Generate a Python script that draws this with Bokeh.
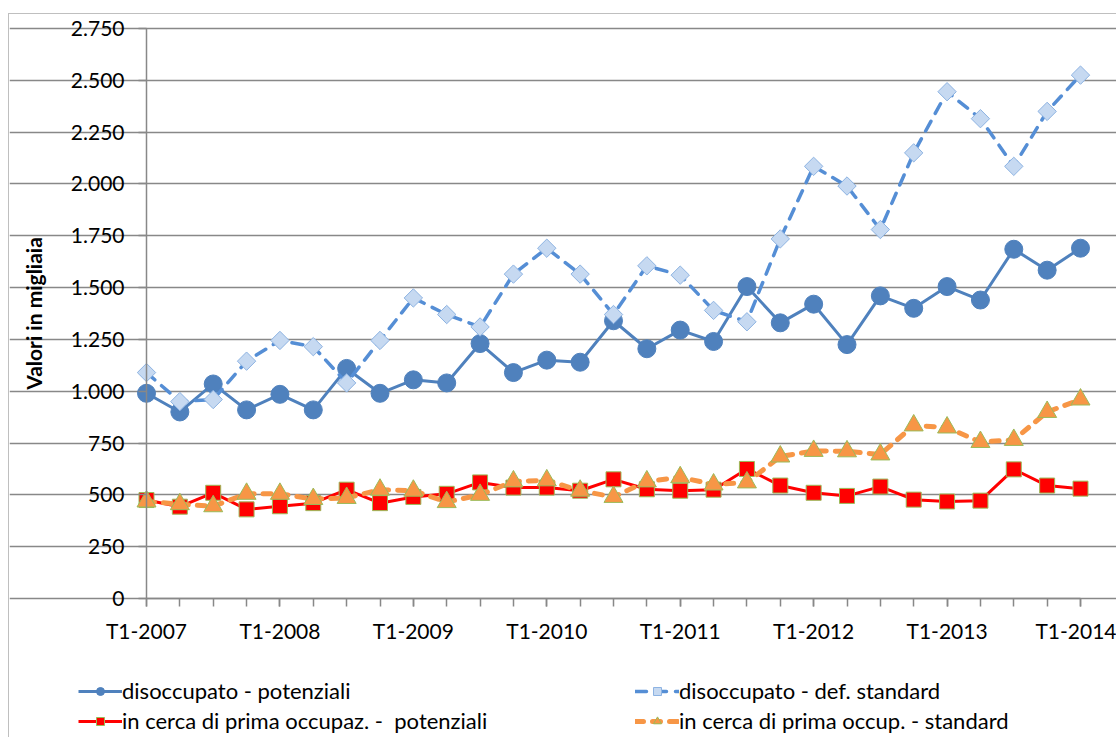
import math
from bokeh.plotting import figure
from bokeh.models import FixedTicker, Legend, LegendItem, ColumnDataSource
from bokeh.embed import file_html
from bokeh.resources import INLINE

# ---- data (values in thousands) ----
quarters = list(range(29))  # T1-2007 ... T1-2014
x_tick_pos = [0, 4, 8, 12, 16, 20, 24, 28]
x_tick_labels = ["T1-2007", "T1-2008", "T1-2009", "T1-2010", "T1-2011", "T1-2012", "T1-2013", "T1-2014"]
y_ticks = [0, 250, 500, 750, 1000, 1250, 1500, 1750, 2000, 2250, 2500, 2750]
y_tick_labels = ["0", "250", "500", "750", "1.000", "1.250", "1.500", "1.750", "2.000", "2.250", "2.500", "2.750"]

disocc_potenziali = [990, 900, 1035, 910, 985, 910, 1110, 990, 1055, 1040, 1230, 1090, 1150, 1140,
                     1340, 1205, 1295, 1240, 1505, 1330, 1420, 1225, 1460, 1400, 1505, 1440, 1685, 1584, 1690]
disocc_standard = [1090, 950, 960, 1145, 1245, 1215, 1040, 1245, 1450, 1370, 1310, 1565, 1690, 1565,
                   1370, 1605, 1560, 1390, 1335, 1735, 2085, 1990, 1780, 2150, 2445, 2315, 2085, 2350, 2525]
prima_potenziali = [475, 443, 510, 430, 445, 460, 525, 460, 490, 505, 560, 535, 535, 520,
                    575, 527, 520, 525, 625, 545, 510, 495, 540, 477, 468, 472, 623, 545, 530]
prima_standard = [468, 455, 445, 505, 505, 480, 485, 525, 520, 465, 500, 565, 570, 520,
                  490, 565, 585, 550, 560, 685, 712, 710, 695, 835, 825, 755, 765, 900, 960]

labels = ["disoccupato - potenziali", "disoccupato - def. standard",
          "in cerca di prima occupaz. -  potenziali", "in cerca di prima occup. - standard"]

FONT = "Lato"
GRID = "#888888"

# layout (window pixels): figure content box 9..1117 x 14..738
FIG_L, FIG_T, FIG_W, FIG_H = 9, 14, 1108, 724
AX_L, AX_R, AX_T, AX_B = 146, 1080, 28, 598   # plot area of the original chart
XN, YMAX = 28, 2750
ppx = (AX_R - AX_L) / XN
ppy = (AX_B - AX_T) / YMAX
x_start = -(AX_L - FIG_L) / ppx
x_end = XN + (FIG_L + FIG_W - AX_R) / ppx
y_end = YMAX + (AX_T - FIG_T) / ppy
y_start = -(FIG_T + FIG_H - AX_B) / ppy

p = figure(width=FIG_W, height=FIG_H, output_backend="svg", toolbar_location=None,
           x_range=(x_start, x_end), y_range=(y_start, y_end),
           min_border=0, min_border_left=0, min_border_right=0,
           min_border_top=0, min_border_bottom=0)
p.styles = {"margin-left": "8px", "margin-top": "13px",
            "border-top": "1px solid #bfbfbf", "border-left": "1px solid #bfbfbf"}
p.outline_line_color = None
p.background_fill_color = "white"
p.border_fill_color = "white"

# axes
p.xaxis.fixed_location = 0
p.yaxis.fixed_location = 0
p.xaxis.bounds = (0, XN)
p.yaxis.bounds = (0, YMAX)
p.xaxis.ticker = FixedTicker(ticks=x_tick_pos, minor_ticks=quarters)
p.xaxis.major_label_overrides = {t: l for t, l in zip(x_tick_pos, x_tick_labels)}
p.yaxis.ticker = FixedTicker(ticks=y_ticks)
p.yaxis.major_label_overrides = {t: l for t, l in zip(y_ticks, y_tick_labels)}
for ax in (p.xaxis[0], p.yaxis[0]):
    ax.axis_line_color = GRID
    ax.axis_line_width = 1.5
    ax.major_tick_line_color = GRID
    ax.major_tick_line_width = 1.5
    ax.major_tick_in = 0
    ax.major_tick_out = 8
    ax.minor_tick_in = 0
    ax.major_label_text_font = FONT
    ax.major_label_text_font_size = "21px"
    ax.major_label_text_color = "#000000"
p.yaxis.major_label_standoff = 14
p.xaxis.major_label_standoff = 11
p.xaxis.minor_tick_out = 8
p.xaxis.minor_tick_line_color = GRID
p.xaxis.minor_tick_line_width = 1.5
p.yaxis.minor_tick_line_color = None
p.yaxis.axis_label = "Valori in migliaia"
p.yaxis.axis_label_text_font = FONT
p.yaxis.axis_label_text_font_size = "21px"
p.yaxis.axis_label_text_font_style = "bold"
p.yaxis.axis_label_text_color = "#000000"
p.yaxis.axis_label_standoff = 22

p.xgrid.grid_line_color = None
p.ygrid.ticker = FixedTicker(ticks=y_ticks)
p.ygrid.bounds = (0, XN)
p.ygrid.grid_line_color = GRID
p.ygrid.grid_line_width = 1.5

src = ColumnDataSource(dict(x=quarters, a=disocc_potenziali, b=disocc_standard,
                            c=prima_potenziali, d=prima_standard))

l1 = p.line("x", "a", source=src, line_color="#4F81BD", line_width=3)
m1 = p.scatter("x", "a", source=src, marker="circle", size=18,
               fill_color="#4F81BD", line_color="#4F81BD")

l2 = p.line("x", "b", source=src, line_color="#558ED5", line_width=3.5,
            line_dash="11 9", line_cap="round")
m2 = p.scatter("x", "b", source=src, marker="square", angle=math.pi / 4, size=13,
               fill_color="#C6D9F1", line_color="#8DB3E2", line_width=1)

l3 = p.line("x", "c", source=src, line_color="#FF0000", line_width=3)
m3 = p.scatter("x", "c", source=src, marker="square", size=15,
               fill_color="#FF0000", line_color="#9BBB59", line_width=1)

l4 = p.line("x", "d", source=src, line_color="#F79646", line_width=5,
            line_dash="8 9", line_cap="round")
m4 = p.scatter("x", "d", source=src, marker="triangle", size=19,
               fill_color="#F79646", line_color="#9BBB59", line_width=1)

items = [LegendItem(label=labels[0], renderers=[l1, m1]),
         LegendItem(label=labels[1], renderers=[l2, m2]),
         LegendItem(label=labels[2], renderers=[l3, m3]),
         LegendItem(label=labels[3], renderers=[l4, m4])]
# legend is filled column by column: put items so that rows read 1|2 and 3|4
legend = Legend(items=[items[0], items[2], items[1], items[3]],
                ncols=2, location=(78 - FIG_L, FIG_T + FIG_H - 734), orientation="vertical")
legend.padding = 0
legend.margin = 0
legend.spacing = 3
legend.glyph_width = 44
legend.glyph_height = 20
legend.label_height = 20
legend.label_width = 510
legend.label_standoff = 0
legend.label_text_font = FONT
legend.label_text_font_size = "22px"
legend.label_text_color = "#000000"
legend.border_line_alpha = 0
legend.background_fill_alpha = 0
p.add_layout(legend, "center")

open("out.html", "w").write(file_html(p, INLINE))
